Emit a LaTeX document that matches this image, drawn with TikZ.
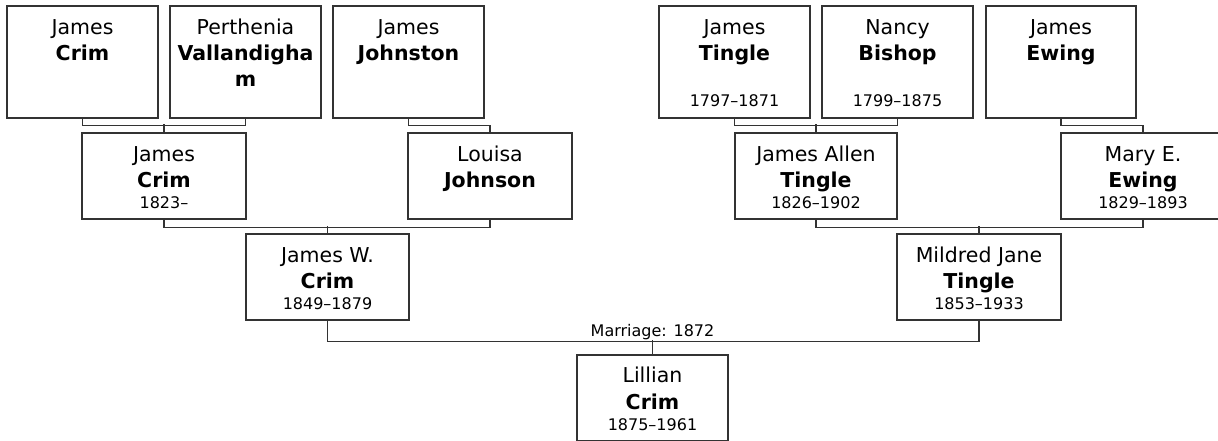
\documentclass[tikz,border=0pt]{standalone}
\usepackage{fontspec}
\setmainfont{DejaVu Sans}
\tikzset{
  box/.style={draw=black!80, line width=1.3pt, fill=white, inner sep=0pt},
  topbox/.style={box, minimum width=151pt, minimum height=112pt},
  midbox/.style={box, minimum width=164pt, minimum height=86pt},
  nm/.style={anchor=base, inner sep=0pt, font=\fontsize{20.5}{26}\selectfont},
  sn/.style={anchor=base, inner sep=0pt, font=\fontsize{20.5}{26}\selectfont\bfseries},
  dt/.style={anchor=base, inner sep=0pt, font=\fontsize{16}{20}\selectfont},
  conn/.style={draw=black!80, line width=1.5pt}
}
\begin{document}
\begin{tikzpicture}[x=1pt,y=-1pt]
\useasboundingbox (0,0) rectangle (1218,440);
% top row
\node[topbox] (a1) at (82.5,62) {};
\node[topbox] (a2) at (245.5,62) {};
\node[topbox] (a3) at (408.5,62) {};
\node[topbox] (a4) at (734.5,62) {};
\node[topbox] (a5) at (897.5,62) {};
\node[topbox, minimum width=150pt] (a6) at (1061,62) {};
% second row
\node[midbox] (b1) at (164,176) {};
\node[midbox] (b2) at (490,176) {};
\node[midbox, minimum width=162pt] (b3) at (816,176) {};
\node[midbox] (b4) at (1143,176) {};
% third row
\node[midbox, minimum width=163pt] (c1) at (327.5,277) {};
\node[midbox] (c2) at (979,277) {};
% child
\node[midbox, minimum width=151pt] (d) at (652.5,398) {};

% labels top row
\node[nm] (a1n) at ([yshift=-29pt]a1.north) {James};
\node[sn] (a1s) at ([yshift=-55pt]a1.north) {Crim};
\node[nm] (a2n) at ([yshift=-29pt]a2.north) {Perthenia};
\node[sn] (a2s) at ([yshift=-55pt]a2.north) {Vallandigha};
\node[sn] (a2m) at ([yshift=-81pt]a2.north) {m};
\node[nm] (a3n) at ([yshift=-29pt]a3.north) {James};
\node[sn] (a3s) at ([yshift=-55pt]a3.north) {Johnston};
\node[nm] (a4n) at ([yshift=-29pt]a4.north) {James};
\node[sn] (a4s) at ([yshift=-55pt]a4.north) {Tingle};
\node[dt] (a4d) at ([yshift=-101pt]a4.north) {1797–1871};
\node[nm] (a5n) at ([yshift=-29pt]a5.north) {Nancy};
\node[sn] (a5s) at ([yshift=-55pt]a5.north) {Bishop};
\node[dt] (a5d) at ([yshift=-101pt]a5.north) {1799–1875};
\node[nm] (a6n) at ([yshift=-29pt]a6.north) {James};
\node[sn] (a6s) at ([yshift=-55pt]a6.north) {Ewing};
% labels second row
\node[nm] (b1n) at ([yshift=-29pt]b1.north) {James};
\node[sn] (b1s) at ([yshift=-55pt]b1.north) {Crim};
\node[dt] (b1d) at ([yshift=-76pt]b1.north) {1823–};
\node[nm] (b2n) at ([yshift=-29pt]b2.north) {Louisa};
\node[sn] (b2s) at ([yshift=-55pt]b2.north) {Johnson};
\node[nm] (b3n) at ([yshift=-29pt]b3.north) {James Allen};
\node[sn] (b3s) at ([yshift=-55pt]b3.north) {Tingle};
\node[dt] (b3d) at ([yshift=-76pt]b3.north) {1826–1902};
\node[nm] (b4n) at ([yshift=-29pt]b4.north) {Mary E.};
\node[sn] (b4s) at ([yshift=-55pt]b4.north) {Ewing};
\node[dt] (b4d) at ([yshift=-76pt]b4.north) {1829–1893};
% labels third row
\node[nm] (c1n) at ([yshift=-29pt]c1.north) {James W.};
\node[sn] (c1s) at ([yshift=-55pt]c1.north) {Crim};
\node[dt] (c1d) at ([yshift=-76pt]c1.north) {1849–1879};
\node[nm] (c2n) at ([yshift=-29pt]c2.north) {Mildred Jane};
\node[sn] (c2s) at ([yshift=-55pt]c2.north) {Tingle};
\node[dt] (c2d) at ([yshift=-76pt]c2.north) {1853–1933};
% child
\node[nm] (dn) at ([yshift=-28pt]d.north) {Lillian};
\node[sn] (ds) at ([yshift=-55pt]d.north) {Crim};
\node[dt] (dd) at ([yshift=-76pt]d.north) {1875–1961};

% connectors
\draw[conn] (a1.south) -- ++(0,7) -| (a2.south);
\draw[conn] (b1.north) -- ++(0,-8);
\draw[conn] (a3.south) -- ++(0,7) -| (b2.north);
\draw[conn] (b1.south) -- ++(0,8) -| (b2.south);
\draw[conn] (c1.north) -- ++(0,-7);
\draw[conn] (a4.south) -- ++(0,7) -| (a5.south);
\draw[conn] (b3.north) -- ++(0,-8);
\draw[conn] (a6.south) -- ++(0,7) -| (b4.north);
\draw[conn] (b3.south) -- ++(0,8) -| (b4.south);
\draw[conn] (c2.north) -- ++(0,-7);
\draw[conn] (c1.south) -- ++(0,21) -| (c2.south);
\draw[conn] (d.north) -- ++(0,-14) coordinate (mj);
\node[dt] (ml) at ([yshift=4pt]mj) {Marriage: 1872};
\end{tikzpicture}
\end{document}
